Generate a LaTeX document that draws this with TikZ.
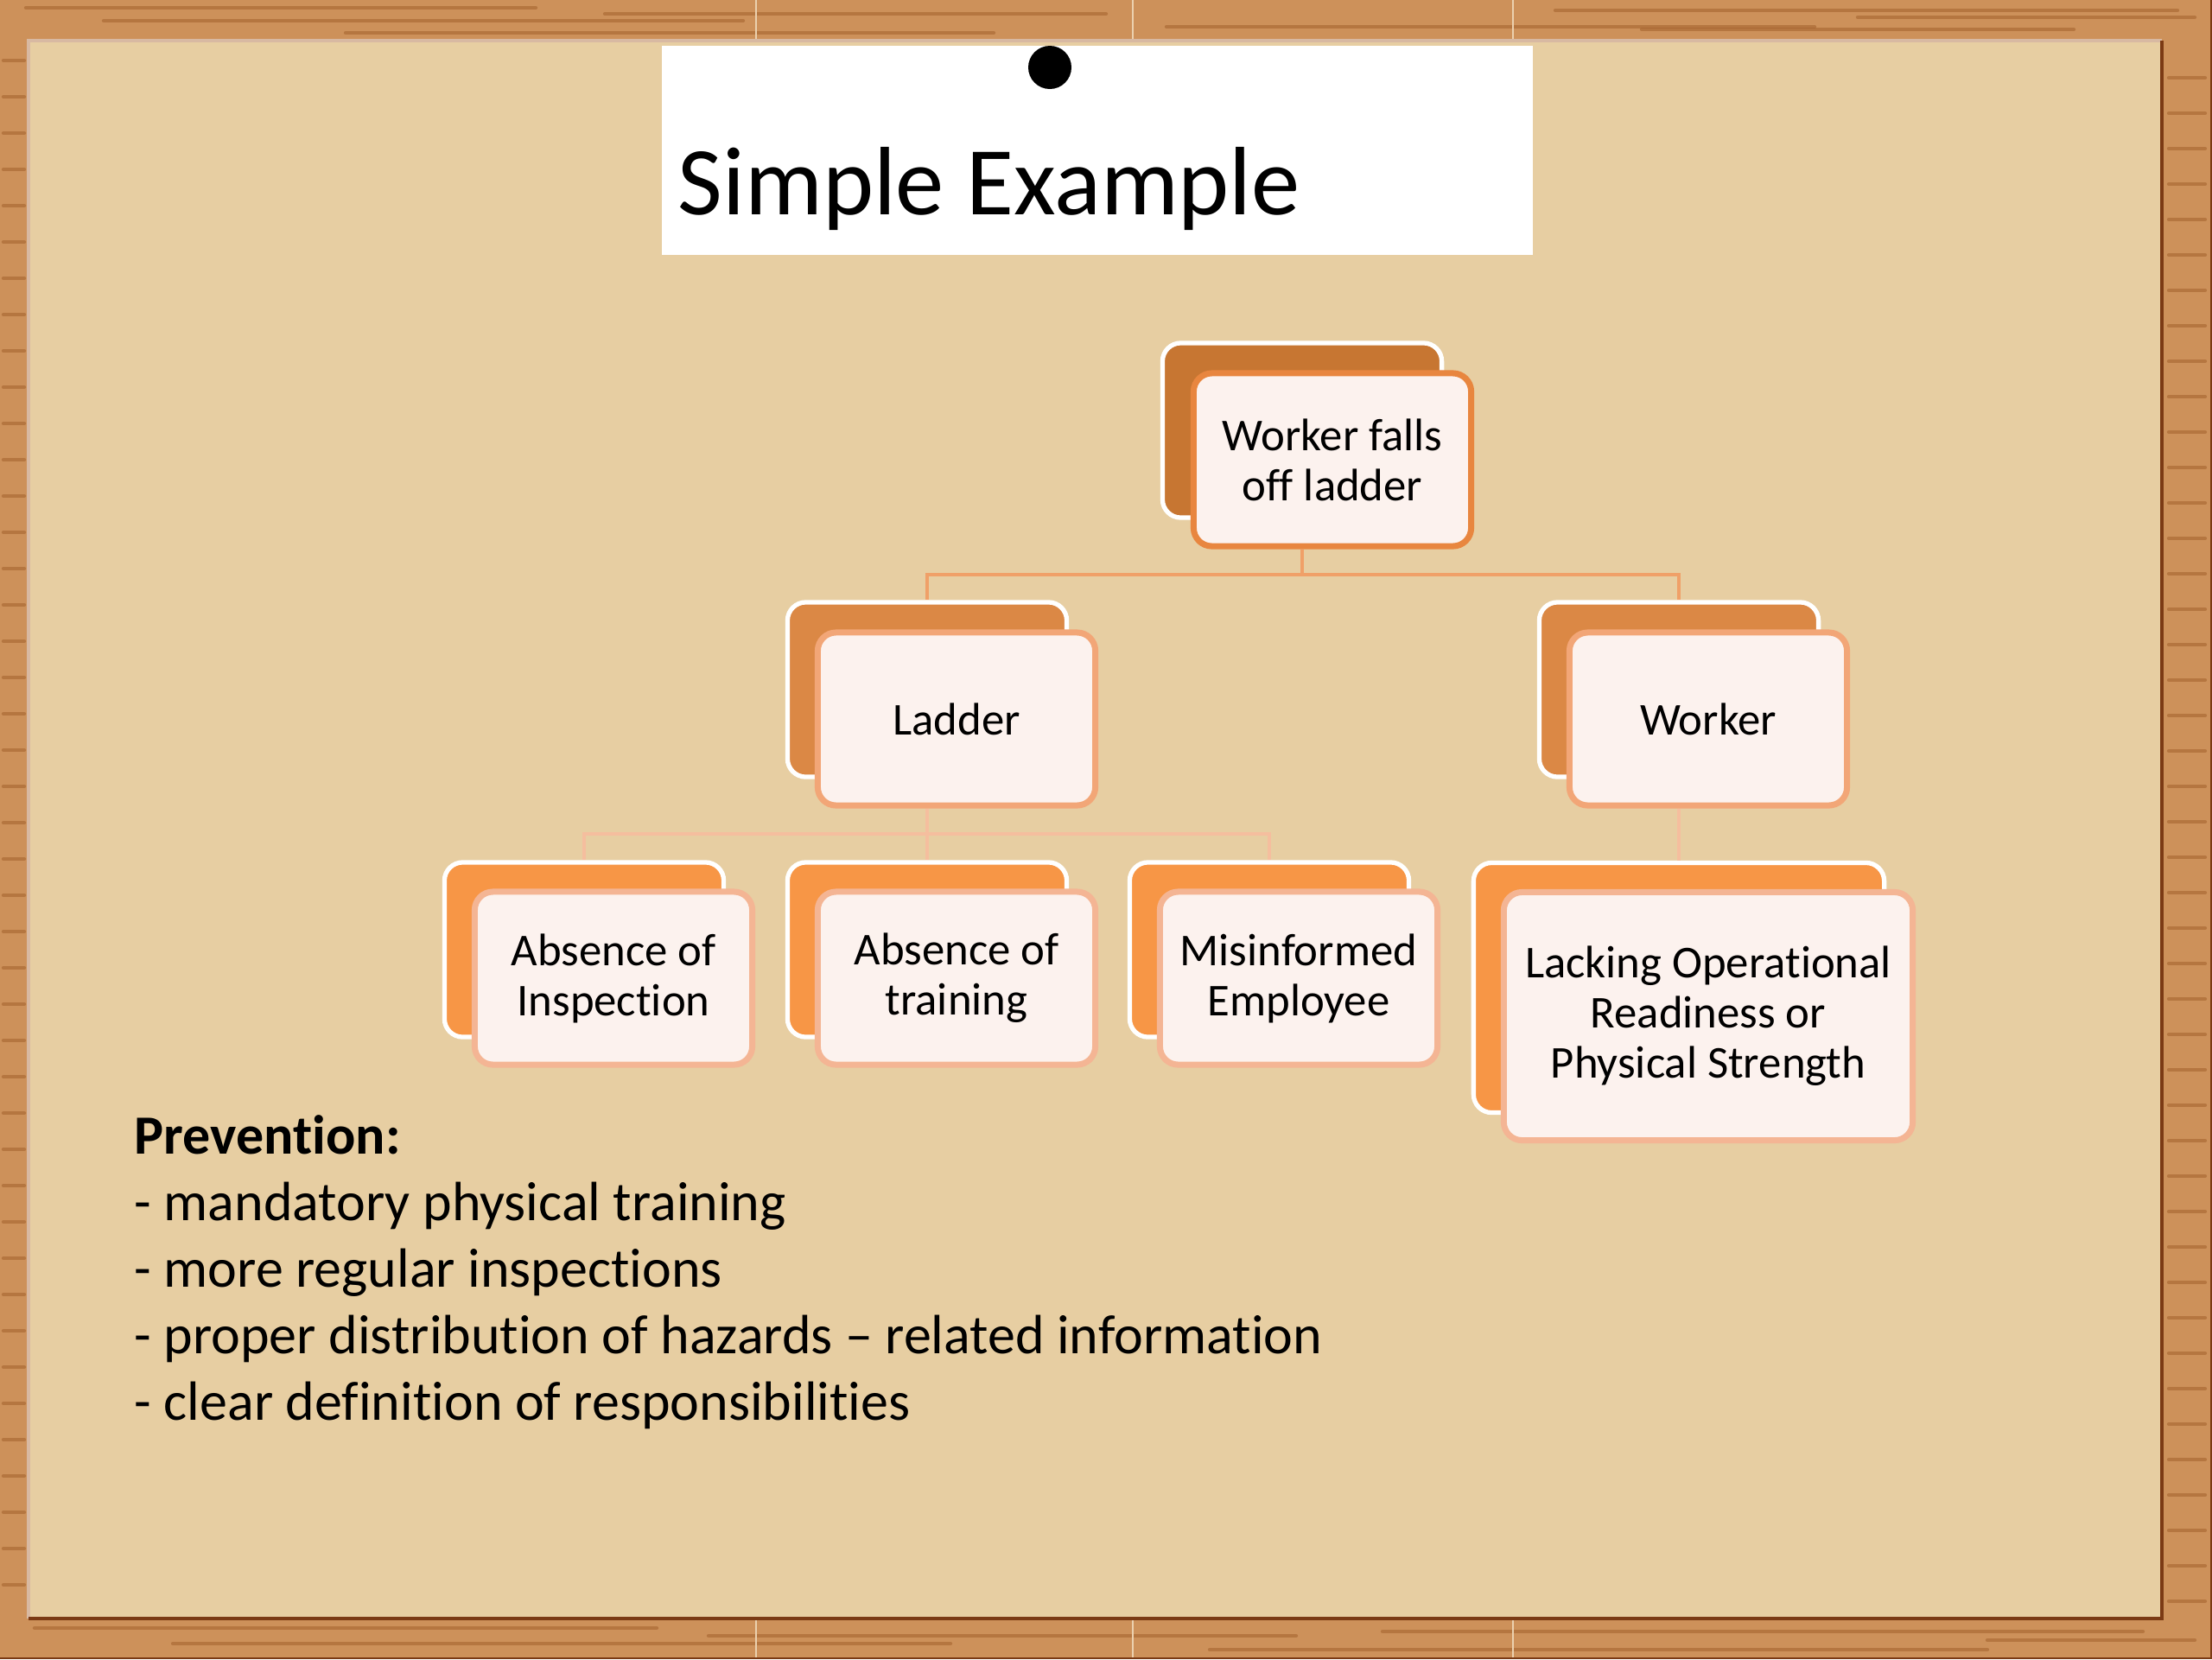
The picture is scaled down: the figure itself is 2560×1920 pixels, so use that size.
\documentclass[tikz,border=0pt]{standalone}
\usepackage{fontspec}
\setmainfont{Carlito}[Ligatures={NoCommon}]

\definecolor{wood}{HTML}{CD915A}
\definecolor{woodgrain}{HTML}{A2602B}
\definecolor{woodseam}{HTML}{EBD0AE}
\definecolor{paper}{HTML}{E7CEA2}
\definecolor{paperedge}{HTML}{7B3A14}
\definecolor{paperlight}{HTML}{D8B9A2}
\definecolor{backA}{HTML}{C77632}
\definecolor{backB}{HTML}{DB8845}
\definecolor{backC}{HTML}{F79646}
\definecolor{borderA}{HTML}{E8863F}
\definecolor{borderB}{HTML}{F2A677}
\definecolor{borderC}{HTML}{F4B594}
\definecolor{cardfill}{HTML}{FCF2EE}
\definecolor{linkcolA}{HTML}{F0A068}
\definecolor{linkcolB}{HTML}{F5BE9E}

\tikzset{
  backbox/.style={draw=white, line width=1.5pt, rounded corners=6pt,
    minimum width=3.23cm, minimum height=2.02cm},
  frontbox/.style={fill=cardfill, line width=2pt, rounded corners=6pt,
    minimum width=3.21cm, minimum height=2.0cm, align=center, inner sep=0pt,
    font=\fontsize{15}{16.5}\selectfont},
  bigback/.style={backbox, minimum width=4.75cm, minimum height=2.89cm},
  bigfront/.style={frontbox, minimum width=4.73cm, minimum height=2.87cm},
  linkA/.style={draw=linkcolA, line width=1.4pt},
  linkB/.style={draw=linkcolB, line width=1.2pt},
  grain/.style={draw=woodgrain, line width=1.2pt, opacity=0.55, line cap=round},
  listline/.style={anchor=base west, inner sep=0pt, font=\fontsize{18.2}{22}\selectfont}
}

\begin{document}
\begin{tikzpicture}[x=0.01cm, y=-0.01cm]
    \useasboundingbox (0,0) rectangle (2560,1920);

    % Wooden frame
    \fill[wood] (0,0) rectangle (2560,1920);
    \foreach \y/\a/\b in {9/30/620, 16/700/1280, 24/120/860, 31/1350/2100,
                          12/1800/2520, 38/400/1150, 20/2150/2540, 34/1900/2400}
        \draw[grain] (\a,\y) -- (\b,\y);
    \foreach \y/\a/\b in {1884/40/760, 1893/820/1500, 1902/200/1100, 1909/1400/2300,
                          1888/1600/2480, 1898/2300/2540}
        \draw[grain] (\a,\y) -- (\b,\y);
    \foreach \y in {70,112,...,1860}
        \draw[grain] (4,\y) -- (28,\y);
    \foreach \y in {90,131,...,1860}
        \draw[grain] (2510,\y) -- (2552,\y);
    \foreach \x in {875,1311,1751} {
        \draw[woodseam, line width=0.5pt] (\x,0) -- (\x,47);
        \draw[woodseam, line width=0.5pt] (\x,1873) -- (\x,1920);
    }
    \draw[paperedge, line width=0.6pt] (0,1919) -- (2559,1919) -- (2559,0);

    % Paper sheet
    \fill[paper] (33,47) rectangle (2502,1873);
    \draw[paperlight, line width=1.2pt] (33,1873) -- (33,47) -- (2502,47);
    \draw[paperedge, line width=1.4pt] (33,1873) -- (2502,1873) -- (2502,47);

    % Title card
    \fill[white] (766,53) rectangle (1774,295);
    \fill[black] (1215,78) circle (25);
    \node[anchor=base west, inner sep=0pt, font=\fontsize{32}{38}\selectfont] (title)
        at (784,248) {Simple Example};

    % Tree boxes
    \node[backbox, fill=backA] (topB) at (1507,498) {};
    \node[frontbox, draw=borderA] (top) at (1542,532) {Worker falls\\off ladder};

    \node[backbox, fill=backB] (ladB) at (1073,798) {};
    \node[frontbox, draw=borderB] (lad) at (1107,832) {Ladder};
    \node[backbox, fill=backB] (wrkB) at (1943,798) {};
    \node[frontbox, draw=borderB] (wrk) at (1977,832) {Worker};

    \node[backbox, fill=backC] (insB) at (676,1099) {};
    \node[frontbox, draw=borderC] (ins) at (710,1132) {Absence of\\Inspection};
    \node[backbox, fill=backC] (trnB) at (1073,1099) {};
    \node[frontbox, draw=borderC] (trn) at (1107,1132) {Absence of\\training};
    \node[backbox, fill=backC] (misB) at (1469,1099) {};
    \node[frontbox, draw=borderC] (mis) at (1503,1132) {Misinformed\\Employee};
    \node[bigback, fill=backC] (lacB) at (1943,1143) {};
    \node[bigfront, draw=borderC] (lac) at (1977,1176)
        {Lacking Operational\\Readiness or\\Physical Strength};

    % Connectors
    \coordinate (bus1) at (1507,665);
    \coordinate (bus2) at (1073,965);
    \draw[linkA] (topB |- top.south) -- (bus1);
    \draw[linkA] (bus1) -| (ladB.north);
    \draw[linkA] (bus1) -| (wrkB.north);
    \draw[linkB] (ladB |- lad.south) -- (bus2);
    \draw[linkB] (bus2) -| (insB.north);
    \draw[linkB] (bus2) -| (trnB.north);
    \draw[linkB] (bus2) -| (misB.north);
    \draw[linkB] (wrkB |- wrk.south) -- (lacB.north);

    % Prevention list
    \node[listline] (prev0) at (155,1335) {\textbf{Prevention:}};
    \node[listline] (prev1) at (155,1412) {- mandatory physical training};
    \node[listline] (prev2) at (155,1489) {- more regular inspections};
    \node[listline] (prev3) at (155,1566) {- proper distribution of hazards – related information};
    \node[listline] (prev4) at (155,1643) {- clear definition of responsibilities};
\end{tikzpicture}
\end{document}
